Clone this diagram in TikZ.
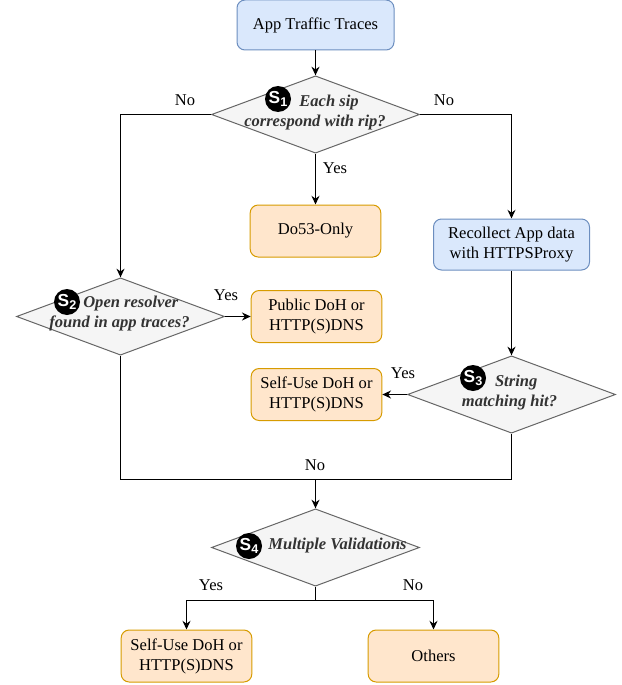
\documentclass[tikz,border=0pt]{standalone}
\usepackage{fontspec}
\setmainfont{Liberation Serif}
\setsansfont{Liberation Sans}
\usetikzlibrary{calc,positioning,shapes.geometric,arrows.meta}
\definecolor{bluefill}{HTML}{DAE8FC}
\definecolor{blueline}{HTML}{6C8EBF}
\definecolor{orangefill}{HTML}{FFE6CC}
\definecolor{orangeline}{HTML}{D79B00}
\definecolor{greyfill}{HTML}{F5F5F5}
\definecolor{greyline}{HTML}{666666}
\definecolor{greytext}{HTML}{333333}
\newcommand{\snum}[1]{S\raisebox{-0.35ex}{\fontsize{9.5}{9.5}\selectfont #1}}

\begin{document}
\begin{tikzpicture}[x=0.75pt,y=-0.75pt,->,>={Stealth[length=6.5pt,width=6pt]},line width=0.9pt,
		font=\fontsize{12.4}{15}\selectfont,
		blue node/.style={rectangle,rounded corners=6pt,draw=blueline,fill=bluefill,line width=0.75pt,align=center,inner sep=0pt},
		orange node/.style={rectangle,rounded corners=6pt,draw=orangeline,fill=orangefill,line width=0.75pt,align=center,inner sep=0pt,minimum width=98pt,minimum height=39pt},
		check node/.style={diamond,draw=greyline,fill=greyfill,line width=0.75pt,inner sep=0pt,minimum width=156pt,minimum height=58pt},
		check text/.style={align=center,text=greytext,font=\fontsize{12.4}{15}\selectfont\bfseries\itshape},
		badge/.style={circle,fill=black,text=white,inner sep=0pt,minimum size=19.5pt,font=\fontsize{13}{13}\selectfont\sffamily\bfseries}]
	\useasboundingbox (0,0) rectangle (621,685);

	% boxes
	\node[blue node,minimum width=117.75pt,minimum height=37.5pt] (1) at (315.5,25) {App Traffic Traces};
	\node[orange node] (3) at (315.5,231) {Do53-Only};
	\node[blue node,minimum width=117pt,minimum height=38.25pt] (4) at (511.5,244.5) {Recollect App data\\with HTTPSProxy};
	\node[orange node] (6) at (316.5,316.5) {Public DoH or\\HTTP(S)DNS};
	\node[orange node] (8) at (316.5,394.5) {Self-Use DoH or\\HTTP(S)DNS};
	\node[orange node] (10) at (186.5,656) {Self-Use DoH or\\HTTP(S)DNS};
	\node[orange node] (11) at (433.5,656) {Others};

	% checks
	\node[check node] (2) at (315.5,114.5) {};
	\node[check node] (5) at (120.5,316.5) {};
	\node[check node] (7) at (511.5,394.5) {};
	\node[check node] (9) at (315.5,547.5) {};
	\node[check text] (q1) at (315,113) {\hspace*{21pt}Each sip\\correspond with rip?};
	\node[check text] (q2) at (119.5,313.5) {\hspace*{17pt}Open resolver\\found in app traces?};
	\node[check text] (q3) at (509.5,392.5) {\hspace*{10pt}String\\matching hit?};
	\node[check text] (q4) at (337.5,546) {Multiple Validations};
	\node[badge] (b1) at (278,99) {\snum{1}};
	\node[badge] (b2) at (67,302) {\snum{2}};
	\node[badge] (b3) at (473,378) {\snum{3}};
	\node[badge] (b4) at (249,546) {\snum{4}};

	% joins
	\coordinate (j) at (315.5,479.5);
	\coordinate (k) at (315.5,600.5);

	\path
	(1) edge (2)
	(2) edge (3)
	(5) edge (6)
	(4) edge (7)
	(7) edge (8)
	(j) edge (9)
;
	\draw (2.west) -| (5.north);
	\draw (2.east) -| (4.north);
	\draw[-] (5.south) |- (j) -| (7.south);
	\draw[-] (9.south) -- (k);
	\draw (k) -| (10.north);
	\draw (k) -| (11.north);

	% labels
	\node (n1) at (185,100) {No};
	\node (n2) at (444,100) {No};
	\node (y1) at (335,168) {Yes};
	\node (y2) at (226,295) {Yes};
	\node (y3) at (403,373) {Yes};
	\node (n3) at (315,465) {No};
	\node (y4) at (211,585) {Yes};
	\node (n4) at (413,585) {No};
\end{tikzpicture}
\end{document}
